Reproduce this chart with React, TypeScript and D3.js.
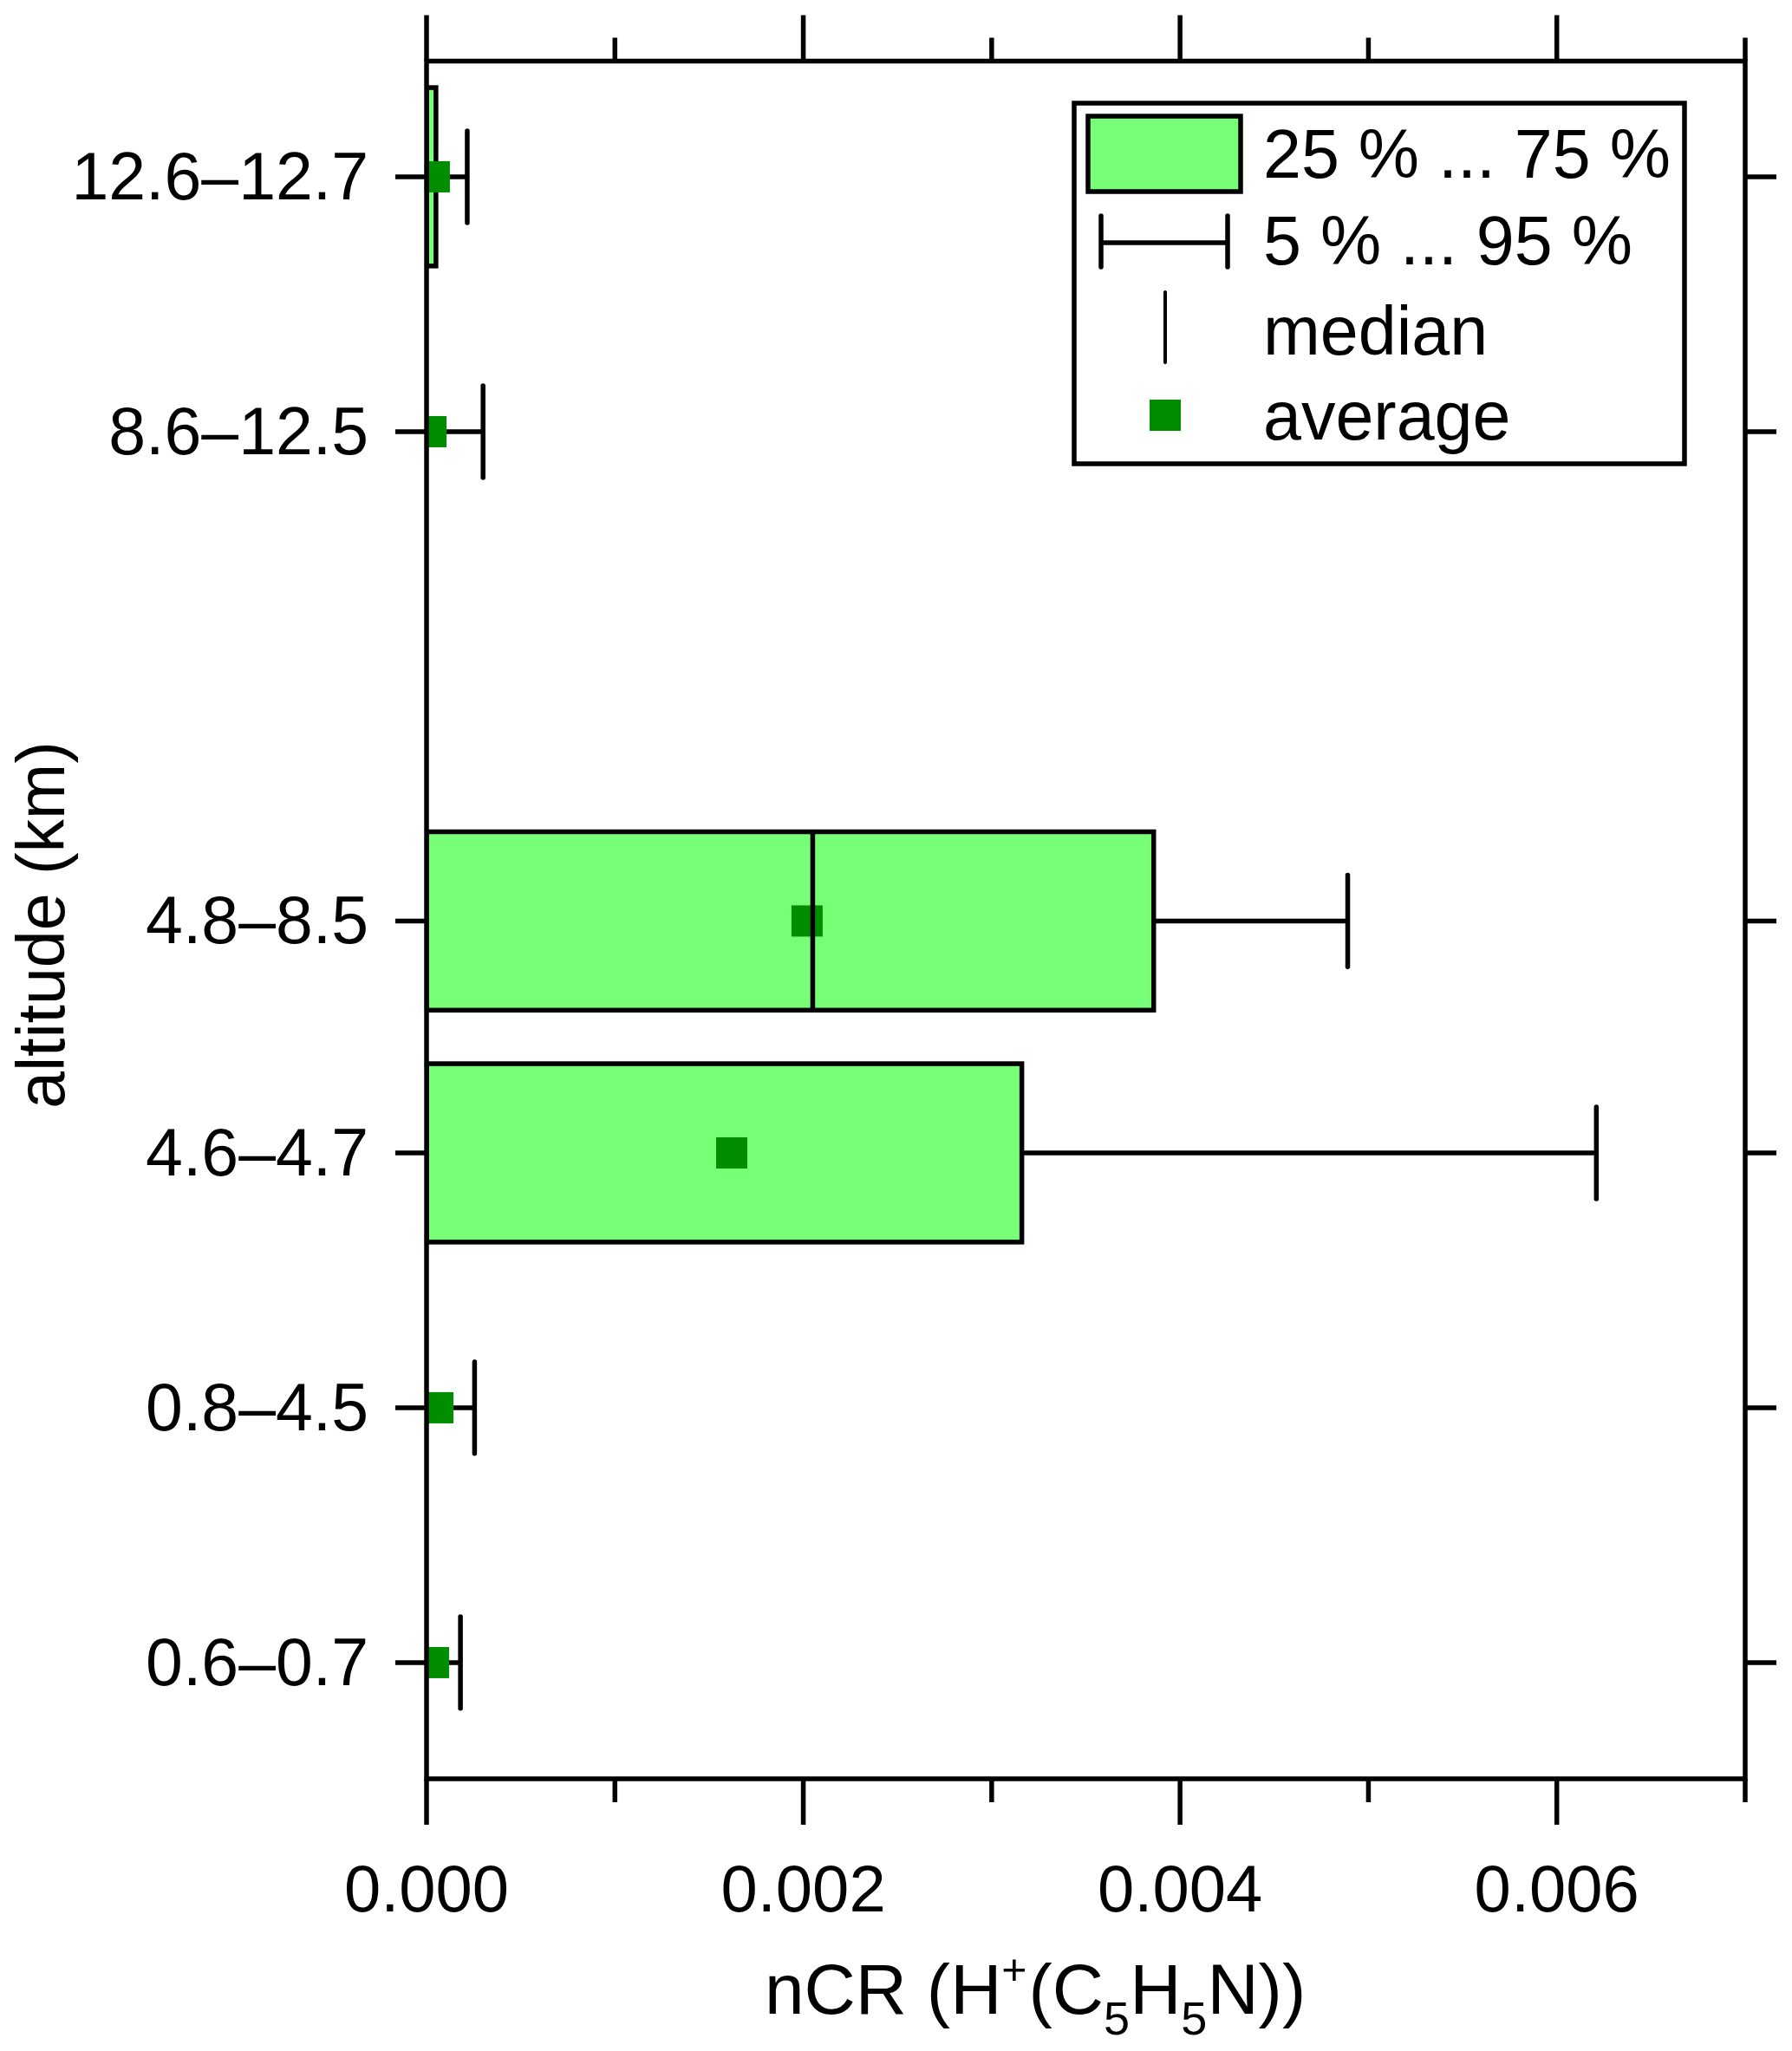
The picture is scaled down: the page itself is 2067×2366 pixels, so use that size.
import React from 'react';
import * as d3 from 'd3';

// altitude bins, bottom to top
const categories = ['0.6–0.7', '0.8–4.5', '4.6–4.7', '4.8–8.5', '8.6–12.5', '12.6–12.7'];
const positions = [0, 1, 2, 2.91, 4.83, 5.83];

// nCR statistics per bin
const p5 = [0, 0, 0, 0, 0, 0];
const q25 = [0, 0, 0, 0, 0, 0];
const median = [0, 0, 0, 0.00205, 0, 0];
const q75 = [0, 0, 0.00316, 0.00386, 0, 0.00005];
const p95 = [0.00018, 0.000255, 0.00621, 0.00489, 0.0003, 0.000216];
const mean = [0.000037, 0.00006, 0.00162, 0.00202, 0.000023, 0.000041];

const xTicks = [0, 0.001, 0.002, 0.003, 0.004, 0.005, 0.006, 0.007];
const legendLabels = ['25 % ... 75 %', '5 % ... 95 %', 'median', 'average'];

const WIDTH = 2067;
const HEIGHT = 2366;
const LEFT = 492;
const RIGHT = 2013;
const TOP = 70.5;
const BOTTOM = 2052;
const BOX_HALF = 0.35;
const CAP_HALF = 0.18;
const MARK = 36;
const SW = 5.5;
const MAJOR = 53;
const MINOR = 27;
const YTICK = 36;

const BOX_FILL = '#78ff78';
const MEAN_FILL = '#008e00';
const FONT = '"Liberation Sans", Arial, Helvetica, sans-serif';

const App: React.FC = () => {
  const x = d3.scaleLinear().domain([0, 0.007]).range([LEFT, RIGHT]);
  const y = d3.scaleLinear().domain([-0.456, 6.284]).range([BOTTOM, TOP]);
  const fmt = d3.format('.3f');
  const boxPx = y(0) - y(BOX_HALF);
  const capPx = y(0) - y(CAP_HALF);

  const rows = categories.map((name, i) => ({
    name,
    pos: positions[i],
    p5: p5[i],
    q25: q25[i],
    median: median[i],
    q75: q75[i],
    p95: p95[i],
    mean: mean[i],
  }));

  // legend rows
  const legX = 1239;
  const legY = 119;
  const legW = 704;
  const legH = 416;
  const legText = 1457;
  const legBase = [205, 305, 409, 507];

  return (
    <svg
      width={WIDTH}
      height={HEIGHT}
      style={{ position: 'absolute', left: 0, top: 0, display: 'block' }}
      fontFamily={FONT}
    >
      <rect width={WIDTH} height={HEIGHT} fill="#fff" />
      <defs>
        <clipPath id="plotClip">
          <rect x={LEFT} y={TOP} width={RIGHT - LEFT} height={BOTTOM - TOP} />
        </clipPath>
      </defs>

      <g clipPath="url(#plotClip)">
        {/* boxes */}
        {rows.map((d, i) =>
          d.q75 > d.q25 ? (
            <rect
              key={'b' + i}
              x={x(d.q25)}
              y={y(d.pos) - boxPx}
              width={x(d.q75) - x(d.q25)}
              height={2 * boxPx}
              fill={BOX_FILL}
              stroke="#000"
              strokeWidth={SW}
            />
          ) : null
        )}
        {/* whiskers */}
        {rows.map((d, i) => (
          <g key={'w' + i} stroke="#000" strokeWidth={SW}>
            <line x1={x(d.q75)} x2={x(d.p95)} y1={y(d.pos)} y2={y(d.pos)} />
            <line
              x1={x(d.p95)}
              x2={x(d.p95)}
              y1={y(d.pos) - capPx}
              y2={y(d.pos) + capPx}
              strokeLinecap="round"
            />
            <line x1={x(d.p5)} x2={x(d.q25)} y1={y(d.pos)} y2={y(d.pos)} />
          </g>
        ))}
        {/* averages */}
        {rows.map((d, i) => (
          <rect
            key={'m' + i}
            x={x(d.mean) - MARK / 2}
            y={y(d.pos) - MARK / 2}
            width={MARK}
            height={MARK}
            fill={MEAN_FILL}
          />
        ))}
        {/* medians */}
        {rows.map((d, i) =>
          d.q75 > d.q25 ? (
            <line
              key={'md' + i}
              x1={x(d.median)}
              x2={x(d.median)}
              y1={y(d.pos) - boxPx}
              y2={y(d.pos) + boxPx}
              stroke="#000"
              strokeWidth={SW}
            />
          ) : null
        )}
      </g>

      {/* frame */}
      <rect
        x={LEFT}
        y={TOP}
        width={RIGHT - LEFT}
        height={BOTTOM - TOP}
        fill="none"
        stroke="#000"
        strokeWidth={SW}
      />

      {/* x ticks, bottom and top */}
      {xTicks.map((t, i) => {
        const len = i % 2 === 0 ? MAJOR : MINOR;
        return (
          <g key={'xt' + i} stroke="#000" strokeWidth={SW}>
            <line x1={x(t)} x2={x(t)} y1={BOTTOM} y2={BOTTOM + len} />
            <line x1={x(t)} x2={x(t)} y1={TOP} y2={TOP - len} />
          </g>
        );
      })}
      {xTicks
        .filter((_, i) => i % 2 === 0)
        .map((t) => (
          <text key={'xl' + t} x={x(t)} y={2205} textAnchor="middle" fontSize={76}>
            {fmt(t)}
          </text>
        ))}

      {/* y ticks, left and right */}
      {rows.map((d, i) => (
        <g key={'yt' + i}>
          <line x1={LEFT - YTICK} x2={LEFT} y1={y(d.pos)} y2={y(d.pos)} stroke="#000" strokeWidth={SW} />
          <line x1={RIGHT} x2={RIGHT + YTICK} y1={y(d.pos)} y2={y(d.pos)} stroke="#000" strokeWidth={SW} />
          <text x={425} y={y(d.pos) + 26} textAnchor="end" fontSize={77}>
            {d.name}
          </text>
        </g>
      ))}

      {/* axis titles */}
      <text
        transform={`translate(74, 1067) rotate(-90)`}
        textAnchor="middle"
        fontSize={77}
      >
        altitude (km)
      </text>
      <text x={882} y={2323} fontSize={82}>
        <tspan>nCR (H</tspan>
        <tspan fontSize={50} dy={-34}>+</tspan>
        <tspan dy={34} dx={2}>(C</tspan>
        <tspan fontSize={54} dy={24}>5</tspan>
        <tspan dy={-24}>H</tspan>
        <tspan fontSize={54} dy={24}>5</tspan>
        <tspan dy={-24}>N))</tspan>
      </text>

      {/* legend */}
      <rect x={legX} y={legY} width={legW} height={legH} fill="#fff" stroke="#000" strokeWidth={SW} />
      <rect x={1255} y={134} width={176} height={87} fill={BOX_FILL} stroke="#000" strokeWidth={SW} />
      <g stroke="#000" strokeWidth={SW}>
        <line x1={1270} x2={1416} y1={280} y2={280} />
        <line x1={1270} x2={1270} y1={249} y2={308} strokeLinecap="round" />
        <line x1={1416} x2={1416} y1={249} y2={308} strokeLinecap="round" />
        <line x1={1344} x2={1344} y1={337} y2={418} strokeWidth={4} strokeLinecap="round" />
      </g>
      <rect x={1344 - MARK / 2} y={461} width={MARK} height={MARK} fill={MEAN_FILL} />
      {legendLabels.map((l, i) => (
        <text key={'lg' + i} x={legText} y={legBase[i]} fontSize={79}>
          {l}
        </text>
      ))}
    </svg>
  );
};

export default App;
